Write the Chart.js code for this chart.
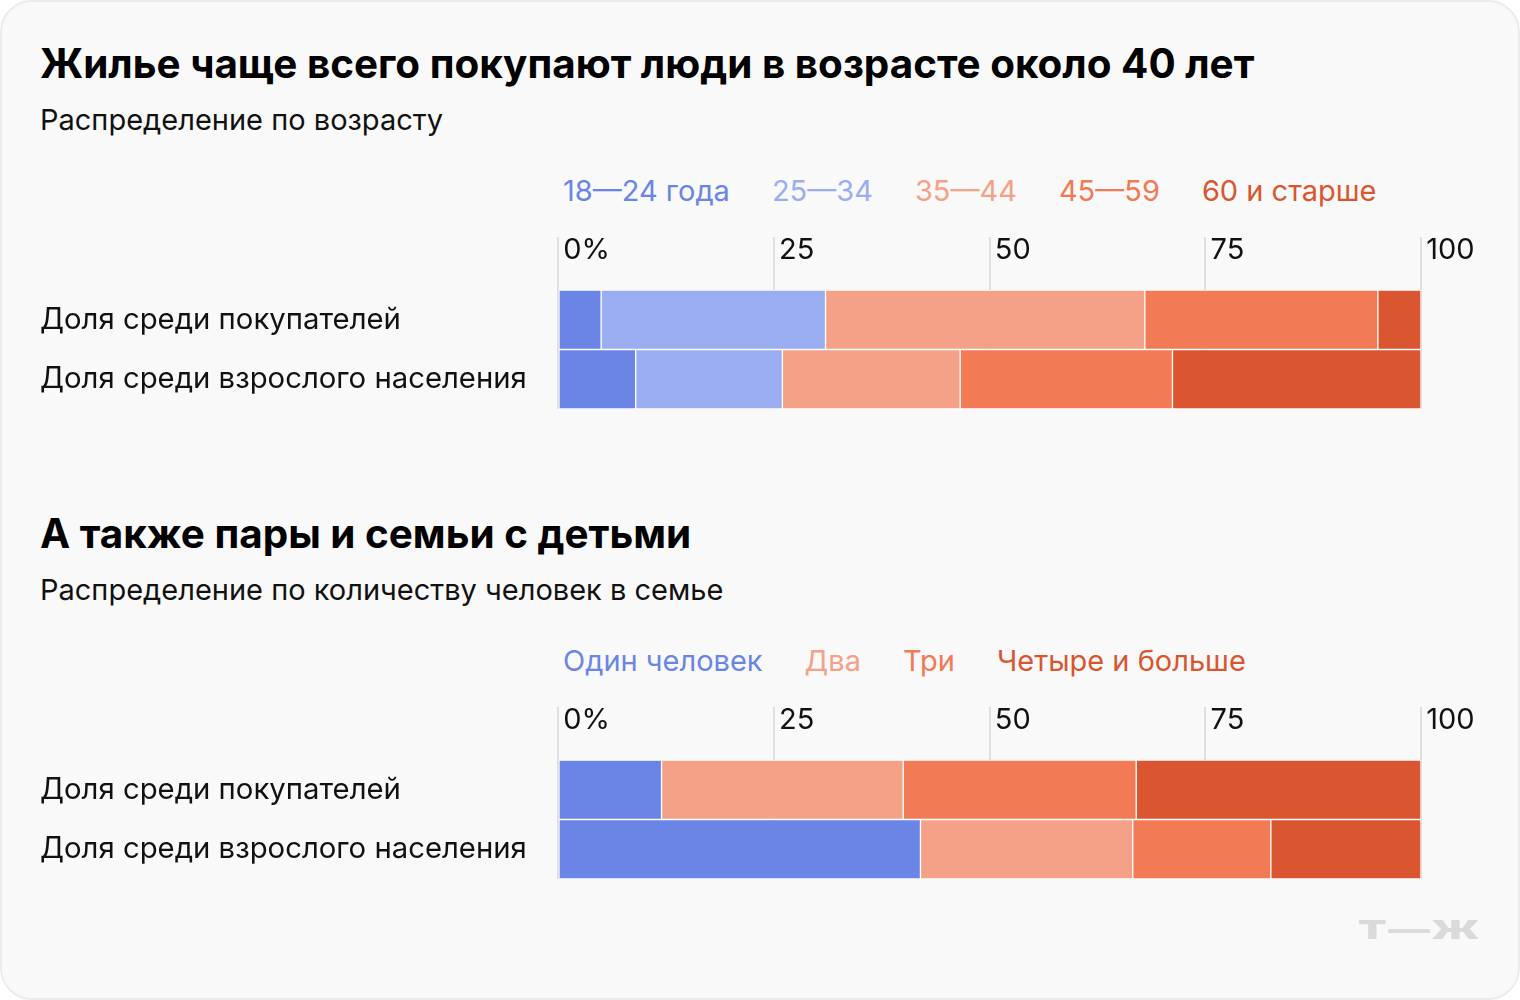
<!DOCTYPE html>
<html lang="ru">
<head>
<meta charset="utf-8">
<script src="https://cdn.jsdelivr.net/npm/chart.js@4.4.1/dist/chart.umd.min.js"></script>
<style>
    html, body { margin: 0; padding: 0; background: #fff; }
    body { width: 1520px; height: 1000px; position: relative; font-family: Inter, sans-serif; color: #111; }
    .card { position: absolute; left: 0; top: 0; width: 1516px; height: 996px; border: 2px solid #ececec; border-radius: 32px; background: #f9f9f9; overflow: hidden; }
    .block { position: absolute; left: 0; width: 1516px; height: 470px; }
    .title { position: absolute; left: 38px; top: 42px; margin: 0; font-size: 40.4px; line-height: 40px; font-weight: 700; color: #000; white-space: nowrap; }
    .subtitle { position: absolute; left: 38px; top: 103px; font-size: 29px; line-height: 29.5px; white-space: nowrap; }
    .legend { position: absolute; left: 561px; top: 174px; display: flex; gap: 42px; font-size: 29px; line-height: 29px; white-space: nowrap; }
    canvas { position: absolute; left: 38px; top: 235px; }
    .logo { position: absolute; left: 1356px; top: 912px; font-size: 26px; font-weight: 900; color: #dadada; letter-spacing: 1px; transform: scaleX(1.6); transform-origin: left center; }
</style>
</head>
<body>
<div class="card">
    <div class="block" style="top:0">
        <h1 class="title">Жилье чаще всего покупают люди в возрасте около 40 лет</h1>
        <div class="subtitle">Распределение по возрасту</div>
        <div class="legend" id="legend-age"></div>
        <canvas id="chart-age" width="1440" height="172"></canvas>
    </div>
    <div class="block" style="top:470px">
        <h1 class="title">А также пары и семьи с детьми</h1>
        <div class="subtitle">Распределение по количеству человек в семье</div>
        <div class="legend" id="legend-family"></div>
        <canvas id="chart-family" width="1440" height="172"></canvas>
    </div>
    <div class="logo">Т—Ж</div>
</div>

<script>
// --- Данные ---
const rowLabels = ['Доля среди покупателей', 'Доля среди взрослого населения'];
const xTicks = [0, 25, 50, 75, 100];

const ageGroups = ['18—24 года', '25—34', '35—44', '45—59', '60 и старше'];
const ageBuyers = [5, 26, 37, 27, 5];
const agePopulation = [9, 17, 20.6, 24.6, 28.8];
const ageColors = ['#6a85e6', '#99adf0', '#f4a187', '#f27a55', '#da5630'];

const familyGroups = ['Один человек', 'Два', 'Три', 'Четыре и больше'];
const familyBuyers = [12, 28, 27, 33];
const familyPopulation = [42, 24.6, 16, 17.4];
const familyColors = ['#6a85e6', '#f4a187', '#f27a55', '#da5630'];

const tickFont = { family: 'Inter', size: 29 };
const rowFont = { family: 'Inter', size: 29.3 };

// легенда — просто цветной текст над графиком
function renderLegend(id, groups, colors) {
    const el = document.getElementById(id);
    groups.forEach((g, i) => {
        const span = document.createElement('span');
        span.textContent = g;
        span.style.color = colors[i];
        el.appendChild(span);
    });
}

function renderStackedChart(id, groups, colors, buyers, population) {
    const ctx = document.getElementById(id).getContext('2d');
    return new Chart(ctx, {
        type: 'bar',
        data: {
            labels: rowLabels,
            datasets: groups.map((g, i) => ({
                label: g,
                data: [buyers[i], population[i]],
                backgroundColor: colors[i],
                borderColor: '#ffffff',
                borderWidth: 1,
                borderSkipped: false,
                barPercentage: 1,
                categoryPercentage: 1
            }))
        },
        options: {
            indexAxis: 'y',
            responsive: false,
            animation: false,
            layout: { padding: { left: 0, right: 59, top: 0, bottom: 0 } },
            plugins: { legend: { display: false }, tooltip: { enabled: false } },
            scales: {
                x: {
                    position: 'top',
                    stacked: true,
                    min: 0,
                    max: 100,
                    z: 1, // сетка поверх столбцов
                    afterBuildTicks: s => { s.ticks = xTicks.map(v => ({ value: v })); },
                    afterFit: s => { s.height = 53; s.paddingLeft = 0; s.paddingRight = 0; },
                    grid: { color: 'rgba(0, 0, 0, 0.1)', lineWidth: 2, tickLength: 53 },
                    border: { display: false },
                    ticks: {
                        align: 'start',
                        padding: -31,
                        color: '#111',
                        font: tickFont,
                        autoSkip: false,
                        maxRotation: 0,
                        callback: v => '\u2009' + (v === 0 ? '0%' : v)
                    }
                },
                y: {
                    stacked: true,
                    // ширина колонки подписей и без лишних отступов сверху/снизу
                    afterFit: s => { s.width = 518; s.paddingTop = 0; s.paddingBottom = 0; },
                    grid: { display: false },
                    border: { display: false },
                    ticks: { crossAlign: 'far', padding: 0, color: '#111', font: rowFont }
                }
            }
        }
    });
}

renderLegend('legend-age', ageGroups, ageColors);
renderLegend('legend-family', familyGroups, familyColors);
renderStackedChart('chart-age', ageGroups, ageColors, ageBuyers, agePopulation);
renderStackedChart('chart-family', familyGroups, familyColors, familyBuyers, familyPopulation);
</script>
</body>
</html>
